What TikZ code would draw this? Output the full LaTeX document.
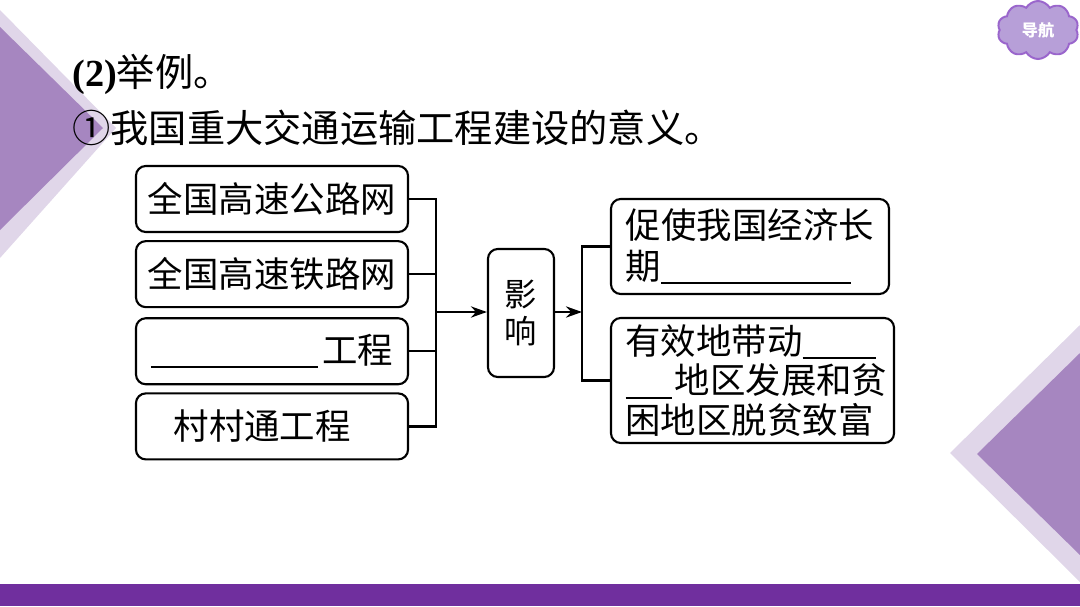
\documentclass[tikz,border=0pt]{standalone}
\usepackage{fontspec}
\setmainfont{Liberation Serif}
\newfontfamily\cjkfont{Noto Sans CJK SC}
\usepackage{xcolor}
\usetikzlibrary{arrows.meta, positioning, shapes.symbols}
\definecolor{barpurple}{HTML}{702F9E}
\definecolor{darkpurple}{HTML}{A686C0}
\definecolor{lightpurple}{HTML}{E0D6E9}
\definecolor{cloudfill}{HTML}{B79FD8}
\definecolor{cloudline}{HTML}{9A66CC}
\tikzset{
  flowbox/.style={draw, line width=1.5pt, rounded corners=7pt, align=left, inner sep=0pt,
                  font=\cjkfont\fontsize{25.2}{29}\selectfont},
  srcbox/.style={flowbox, minimum width=6.8cm, minimum height=1.65cm},
  flowline/.style={line width=1.7pt},
  flowarrow/.style={flowline, -{Stealth[length=4mm, width=2.8mm]}},
  headline/.style={anchor=west, inner sep=0pt, font=\cjkfont\fontsize{27.2}{30}\selectfont, text=black}
}
\newcommand{\blankline}[1]{\rule[-3.5pt]{#1}{1.5pt}}

\begin{document}
\begin{tikzpicture}[x=0.025cm, y=-0.025cm]
\useasboundingbox (0,0) rectangle (1080,606);

% Background shapes
\fill[lightpurple] (0,10) -- (116,128) -- (0,258) -- cycle;
\fill[darkpurple] (0,27) -- (103,128) -- (0,230) -- cycle;
\fill[lightpurple] (1080,325) -- (950,453) -- (1080,582) -- cycle;
\fill[darkpurple] (1080,353) -- (977,454) -- (1080,555) -- cycle;
\fill[barpurple] (0,584) rectangle (1080,606);

% Nav badge
\node[cloud, cloud puffs=10, cloud puff arc=120, aspect=1.4, draw=cloudline, fill=cloudfill,
      line width=1.4pt, minimum width=2.03cm, minimum height=1.45cm, inner sep=0pt,
      text=white, font=\cjkfont\bfseries\fontsize{11.5}{13}\selectfont] (nav) at (1038,30) {导航};

% Title
\node[headline] (title) at (72,74) {{\rmfamily\bfseries (2)}举例。};
\node[headline] (subtitle) at (72,128) {①我国重大交通运输工程建设的意义。};

% Left column
\node[srcbox] (road) at (272,199) {全国高速公路网};
\node[srcbox, below=0.175cm of road] (rail) {全国高速铁路网};
\node[srcbox, below=0.225cm of rail] (proj) {\blankline{119pt}\hspace{3pt}工程};
\node[srcbox, below=0.175cm of proj] (village) {村村通工程\hspace{14pt}};

% Middle
\node[flowbox, align=center, minimum width=1.65cm, minimum height=3.2cm,
      font=\cjkfont\fontsize{23}{26.5}\selectfont] (effect) at (521,313) {影\\响};

% Right column
\node[flowbox, minimum width=6.95cm, minimum height=2.375cm] (growth) at (750,246.5) {促使我国经济长\\期\blankline{135pt}};
\node[flowbox, minimum width=7.075cm, minimum height=3.125cm,
      font=\cjkfont\fontsize{25.2}{28}\selectfont] (region) at (752.5,380.5)
  {\hspace*{5.6pt}有效地带动\blankline{52pt}\\\hspace*{5.6pt}\blankline{33pt}\hspace{2pt}地区发展和贫\\\hspace*{5.6pt}困地区脱贫致富};

% Connectors
\coordinate (busl) at (436,312);
\coordinate (busr) at (582,312);
\draw[flowline] (road.east) -| (busl);
\draw[flowline] (village.east) -| (busl);
\draw[flowline] (rail.east) -- (rail.east -| busl);
\draw[flowline] (proj.east) -- (proj.east -| busl);
\draw[flowarrow] (busl) -- (busl -| effect.west);
\draw[flowarrow] (busr -| effect.east) -- (busr);
\draw[flowline] (growth.west) -| (busr);
\draw[flowline] (region.west) -| (busr);

\end{tikzpicture}
\end{document}
